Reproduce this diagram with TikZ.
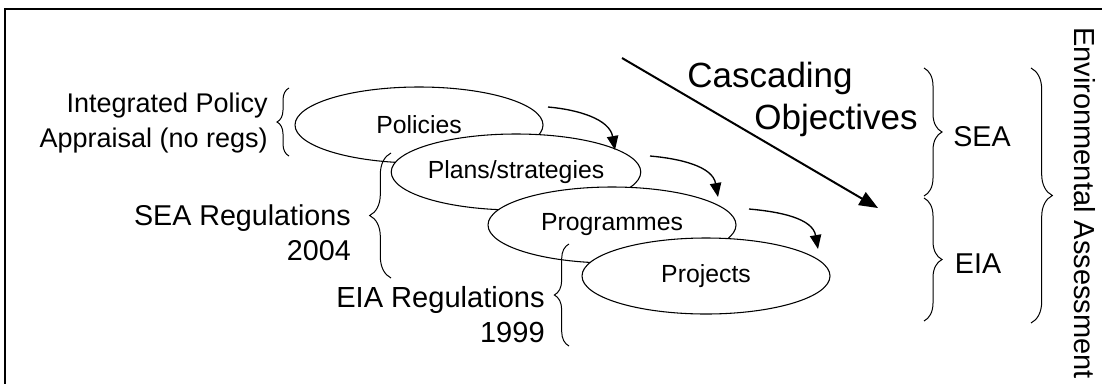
\documentclass[tikz,border=0pt]{standalone}
\usepackage{fontspec}
\setmainfont{Liberation Sans}
\usetikzlibrary{shapes.geometric,arrows.meta,decorations.pathreplacing}

\begin{document}
\begin{tikzpicture}[x=0.75pt,y=0.75pt,yscale=-1,xscale=1,
	level/.style={draw, ellipse, fill=white, line width=0.8pt, minimum width=186pt, minimum height=57pt, inner sep=0pt, font=\fontsize{18.6}{22}\selectfont},
	regs/.style={anchor=east, align=right, inner sep=0pt, font=\fontsize{#1}{26.25}\selectfont},
	tag/.style={inner sep=0pt, font=\fontsize{21.5}{24}\selectfont},
	big/.style={inner sep=0pt, font=\fontsize{26.25}{30}\selectfont},
	curl/.style={decorate, decoration={brace, amplitude=#1}, line width=0.75pt},
	flow/.style={line width=1pt, -{Triangle[length=10.5pt,width=8.5pt]}}]
	\useasboundingbox (0,0) rectangle (1102,383);

	%Frame
	\draw [line width=1.5pt] (5,390) -- (5,9) -- (1110,9);

	%Shape: Ellipse [levels, back to front]
	\node [level] (pol) at (419,125) {Policies};
	\node [level] (pln) at (516,172) {Plans/strategies};
	\node [level] (prg) at (612,225) {Programmes};
	\node [level] (prj) at (706,276) {Projects};

	% Text Node
	\node [regs=20.25] (ipa) at (268,123) {Integrated Policy\\Appraisal (no regs)};
	% Text Node
	\node [regs=21.5] (seareg) at (351,233) {SEA Regulations\\2004};
	% Text Node
	\node [regs=21.8] (eiareg) at (545,315) {EIA Regulations\\1999};
	% Text Node
	\node [big] (casc) at (770,78) {Cascading};
	% Text Node
	\node [big] (obj) at (836,120) {Objectives};
	% Text Node
	\node [tag] (sea) at (982,137) {SEA};
	% Text Node
	\node [tag] (eia) at (978,264) {EIA};
	% Text Node
	\node [tag, font=\fontsize{21.75}{24}\selectfont, rotate=-90] (ea) at (1085,203) {Environmental Assessment};

	%Curved Arrows
	\coordinate (f1a) at (548,107);
	\coordinate (f1b) at (615,150);
	\coordinate (f2a) at (650,156);
	\coordinate (f2b) at (718,197);
	\coordinate (f3a) at (749,209);
	\coordinate (f3b) at (818,249);
	\draw [flow] (f1a) to [out=5,in=-100] (f1b);
	\draw [flow] (f2a) to [out=5,in=-100] (f2b);
	\draw [flow] (f3a) to [out=5,in=-100] (f3b);

	%Straight Lines [cascade]
	\coordinate (cs) at (622,58);
	\coordinate (ce) at (878,208);
	\draw [line width=1.5pt, -{Triangle[length=14pt,width=11pt]}] (cs) -- (ce);

	%Braces
	\coordinate (b1t) at (289,88);
	\coordinate (b1b) at (289,156);
	\coordinate (b2t) at (391,153);
	\coordinate (b2b) at (391,278);
	\coordinate (b3t) at (569,244);
	\coordinate (b3b) at (569,346);
	\coordinate (b4t) at (924,68);
	\coordinate (b4b) at (924,196);
	\coordinate (b5t) at (924,198);
	\coordinate (b5b) at (924,321);
	\coordinate (b6t) at (1031,68);
	\coordinate (b6b) at (1031,323);
	\draw [curl=9pt] (b1b) -- (b1t);
	\draw [curl=16pt] (b2b) -- (b2t);
	\draw [curl=11pt] (b3b) -- (b3t);
	\draw [curl=13.5pt] (b4t) -- (b4b);
	\draw [curl=13.5pt] (b5t) -- (b5b);
	\draw [curl=16pt] (b6t) -- (b6b);
\end{tikzpicture}
\end{document}
